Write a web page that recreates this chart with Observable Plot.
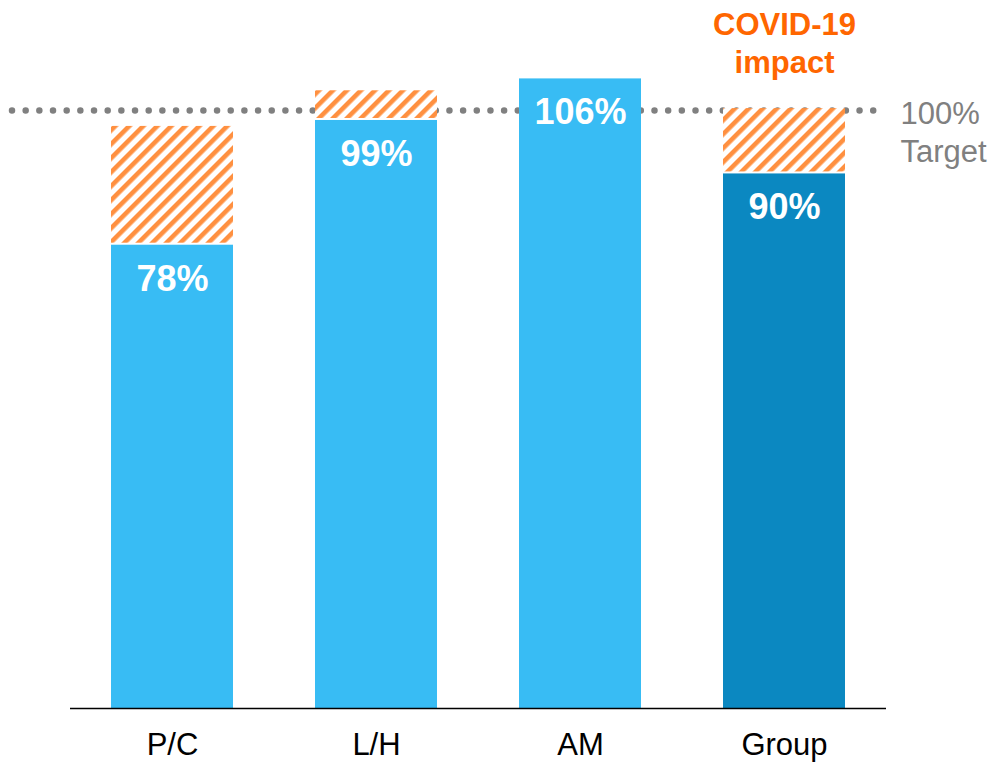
<!DOCTYPE html>
<html>
<head>
<meta charset="utf-8">
<script src="https://cdn.jsdelivr.net/npm/d3@7"></script>
<script src="https://cdn.jsdelivr.net/npm/@observablehq/plot@0.6"></script>
<style>
  html, body { margin: 0; padding: 0; background: #fff; }
  #chart svg { display: block; }
</style>
</head>
<body>
<div id="chart"></div>
<script>
const categories = ["P/C", "L/H", "AM", "Group"];
const actual = [78, 99, 106, 90];
const covidImpact = [20, 5, 0, 11];
const barLabels = ["78%", "99%", "106%", "90%"];
const target = 100;
const targetLabel = "100%\nTarget";
const covidLabel = "COVID-19\nimpact";
const covidLabelCategory = "Group";

const rows = categories.map((c, i) => ({
  category: c,
  actual: actual[i],
  impact: covidImpact[i],
  total: actual[i] + covidImpact[i],
  label: barLabels[i]
}));
const impactRows = rows.filter(d => d.impact > 0);
const covidRow = rows.filter(d => d.category === covidLabelCategory);

const plot = Plot.plot({
  width: 992,
  height: 765,
  marginTop: 0,
  marginBottom: 57,
  marginLeft: 70,
  marginRight: 106,
  style: { fontFamily: "Liberation Sans, Arial, sans-serif", fontSize: "31px", color: "#000", background: "#fff" },
  x: { domain: categories, paddingInner: 0.4, paddingOuter: 0.2, tickSize: 0, tickPadding: 24, label: null },
  y: { domain: [0, 119.2], axis: null },
  color: { domain: categories, range: ["#38bcf4", "#38bcf4", "#38bcf4", "#0b88c1"] },
  marks: [
    Plot.ruleY([target], {
      stroke: "#808080", strokeWidth: 6.5, strokeLinecap: "round",
      strokeDasharray: "0 13.67", dy: -4, insetLeft: -58, insetRight: 6
    }),
    Plot.barY(rows, { x: "category", y: "actual", fill: "category" }),
    Plot.barY(impactRows, {
      x: "category", y1: "actual", y2: "total", insetBottom: 2, fill: "url(#covidHatch)"
    }),
    Plot.ruleY([0], { stroke: "#000", strokeWidth: 1.5 }),
    Plot.text(rows, {
      x: "category", y: "actual", text: "label", dy: 34,
      fill: "#fff", fontWeight: "bold", fontSize: 36
    }),
    Plot.text([target], {
      y: d => d, text: () => targetLabel, frameAnchor: "right", textAnchor: "start",
      dx: 14, dy: 16, lineHeight: 1.23, fill: "#808080", fontSize: 31
    }),
    Plot.text(covidRow, {
      x: "category", y: "total", text: () => covidLabel, dy: -67, lineHeight: 1.25,
      fill: "#ff6600", fontWeight: "bold", fontSize: 31
    })
  ]
});

const ns = "http://www.w3.org/2000/svg";
const defs = document.createElementNS(ns, "defs");
const pat = document.createElementNS(ns, "pattern");
pat.setAttribute("id", "covidHatch");
pat.setAttribute("patternUnits", "userSpaceOnUse");
pat.setAttribute("width", "9.9");
pat.setAttribute("height", "9.9");
pat.setAttribute("patternTransform", "rotate(45)");
const bg = document.createElementNS(ns, "rect");
bg.setAttribute("width", "9.9");
bg.setAttribute("height", "9.9");
bg.setAttribute("fill", "#ffffff");
const stripe = document.createElementNS(ns, "rect");
stripe.setAttribute("width", "4.6");
stripe.setAttribute("height", "9.9");
stripe.setAttribute("fill", "#ff9040");
pat.appendChild(bg);
pat.appendChild(stripe);
defs.appendChild(pat);
plot.insertBefore(defs, plot.firstChild);

document.getElementById("chart").appendChild(plot);
</script>
</body>
</html>
